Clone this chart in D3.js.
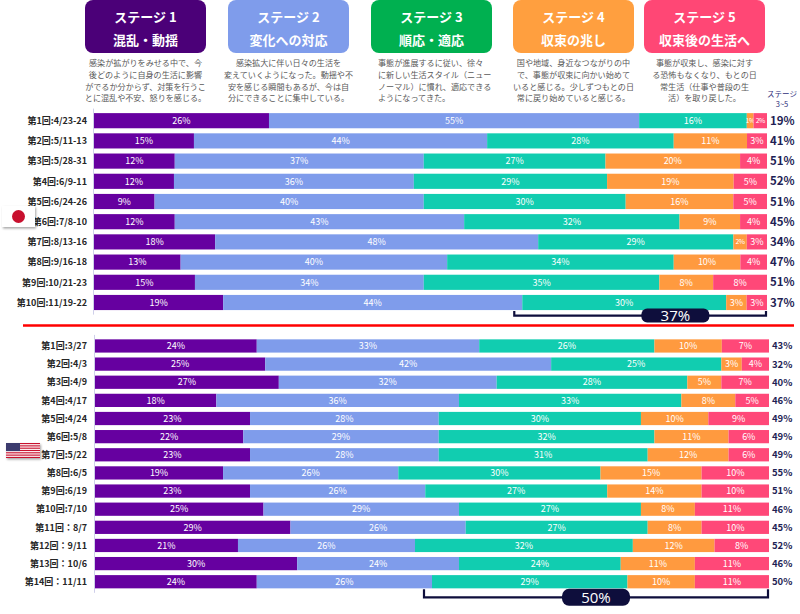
<!DOCTYPE html>
<html>
<head>
<meta charset="utf-8">
<script src="https://cdn.jsdelivr.net/npm/d3@7"></script>
<style>
  body { margin: 0; background: #fff; }
  svg { display: block; font-family: "Noto Sans CJK JP", "Noto Sans", sans-serif; }
</style>
</head>
<body>
<div id="chart"></div>
<script>
// stage headers
const stageTitles = ["ステージ 1", "ステージ 2", "ステージ 3", "ステージ 4", "ステージ 5"];
const stageNames = ["混乱・動揺", "変化への対応", "順応・適応", "収束の兆し", "収束後の生活へ"];
const stageNotes = [
  ["感染が拡がりをみせる中で、今", "後どのように自身の生活に影響", "がでるか分からず、対策を行うこ", "とに混乱や不安、怒りを感じる。"],
  ["感染拡大に伴い日々の生活を", "変えていくようになった。動揺や不", "安を感じる瞬間もあるが、今は自", "分にできることに集中している。"],
  ["事態が進展するに従い、徐々", "に新しい生活スタイル（ニュー", "ノーマル）に慣れ、適応できる", "ようになってきた。"],
  ["国や地域、身近なつながりの中", "で、事態が収束に向かい始めて", "いると感じる。少しずつもとの日", "常に戻り始めていると感じる。"],
  ["事態が収束し、感染に対す", "る恐怖もなくなり、もとの日", "常生活（仕事や普段の生", "活）を取り戻した。"]
];
const noteAlign = ["middle", "middle", "start", "middle", "middle"];

// Japan
const jpRounds = ["第1回:4/23-24", "第2回:5/11-13", "第3回:5/28-31", "第4回:6/9-11", "第5回:6/24-26",
  "第6回:7/8-10", "第7回:8/13-16", "第8回:9/16-18", "第9回:10/21-23", "第10回:11/19-22"];
const jpStage1 = [26, 15, 12, 12, 9, 12, 18, 13, 15, 19];
const jpStage2 = [55, 44, 37, 36, 40, 43, 48, 40, 34, 44];
const jpStage3 = [16, 28, 27, 29, 30, 32, 29, 34, 35, 30];
const jpStage4 = [1, 11, 20, 19, 16, 9, 2, 10, 8, 3];
const jpStage5 = [2, 3, 4, 5, 5, 4, 3, 4, 8, 3];
const jpTotals = [19, 41, 51, 52, 51, 45, 34, 47, 51, 37];
const jpLatest = 37;

// USA
const usRounds = ["第1回:3/27", "第2回:4/3", "第3回:4/9", "第4回:4/17", "第5回:4/24", "第6回:5/8", "第7回:5/22",
  "第8回:6/5", "第9回:6/19", "第10回:7/10", "第11回：8/7", "第12回：9/11", "第13回：10/6", "第14回：11/11"];
const usStage1 = [24, 25, 27, 18, 23, 22, 23, 19, 23, 25, 29, 21, 30, 24];
const usStage2 = [33, 42, 32, 36, 28, 29, 28, 26, 26, 29, 26, 26, 24, 26];
const usStage3 = [26, 25, 28, 33, 30, 32, 31, 30, 27, 27, 27, 32, 24, 29];
const usStage4 = [10, 3, 5, 8, 10, 11, 12, 15, 14, 8, 8, 12, 11, 10];
const usStage5 = [7, 4, 7, 5, 9, 6, 6, 10, 10, 11, 10, 8, 11, 11];
const usTotals = [43, 32, 40, 46, 49, 49, 49, 55, 51, 46, 45, 52, 46, 50];
const usLatest = 50;

const barColors = ["#6600A0", "#7F9CEB", "#11CDB0", "#FF9A3F", "#FF4878"];
const boxColors = ["#4B0078", "#7F9CEB", "#00B050", "#FF9F3F", "#FF4775"];
const navy = "#0E0E3C";

const width = 800, height = 614;

const svg = d3.select("#chart").append("svg")
  .attr("width", width)
  .attr("height", height)
  .attr("viewBox", [0, 0, width, height]);

const defs = svg.append("defs");
const shadow = defs.append("filter").attr("id", "shadow")
  .attr("x", "-30%").attr("y", "-30%").attr("width", "160%").attr("height", "170%");
shadow.append("feDropShadow").attr("dx", 1).attr("dy", 1.5).attr("stdDeviation", 1)
  .attr("flood-color", "#000").attr("flood-opacity", 0.35);

// header boxes
const boxX = [85, 228, 371, 513, 644];
const boxW = 121;
const header = svg.append("g")
  .selectAll("g")
  .data(stageTitles)
  .join("g")
  .attr("transform", (d, i) => `translate(${boxX[i]},0)`);

header.append("rect")
  .attr("y", 0)
  .attr("width", boxW)
  .attr("height", 53)
  .attr("rx", 8)
  .attr("fill", (d, i) => boxColors[i]);

header.append("text")
  .attr("x", boxW / 2)
  .attr("y", 22)
  .attr("text-anchor", "middle")
  .attr("fill", "#fff")
  .attr("font-size", 13)
  .attr("font-weight", "bold")
  .text(d => d);

header.append("text")
  .attr("x", boxW / 2)
  .attr("y", 45)
  .attr("text-anchor", "middle")
  .attr("fill", "#fff")
  .attr("font-size", 13)
  .attr("font-weight", "bold")
  .text((d, i) => stageNames[i]);

header.each(function (d, i) {
  d3.select(this).append("g")
    .attr("text-anchor", noteAlign[i])
    .selectAll("text")
    .data(stageNotes[i])
    .join("text")
    .attr("x", noteAlign[i] === "start" ? 7 : boxW / 2)
    .attr("y", (t, j) => 66 + j * 11.8)
    .attr("fill", "#595959")
    .attr("font-size", 8.1)
    .text(t => t);
});

svg.append("g")
  .attr("fill", "#2E2E7A")
  .attr("font-size", 7.5)
  .attr("text-anchor", "middle")
  .selectAll("text")
  .data(["ステージ", "3~5"])
  .join("text")
  .attr("x", 782)
  .attr("y", (d, i) => 97 + i * 10)
  .text(d => d);

function panel(rounds, series, totals, latest, opt) {
  const rows = rounds.map((r, i) => series.map(s => s[i]));
  const stacked = d3.stack()
    .keys(d3.range(series.length))
    .offset(d3.stackOffsetExpand)(rows);

  const x = d3.scaleLinear().domain([0, 1]).range(opt.xRange);
  const y = d3.scaleBand()
    .domain(rounds)
    .range(opt.yRange)
    .paddingInner(opt.pad)
    .paddingOuter(opt.pad / 2);

  const g = svg.append("g");

  // axis line
  g.append("line")
    .attr("x1", opt.xRange[0] - 0.5).attr("x2", opt.xRange[0] - 0.5)
    .attr("y1", opt.yRange[0] - 2).attr("y2", opt.yRange[1] + 2)
    .attr("stroke", "#CFCFEA");

  const layer = g.append("g")
    .selectAll("g")
    .data(stacked)
    .join("g")
    .attr("fill", d => barColors[d.key]);

  layer.selectAll("rect")
    .data(d => d)
    .join("rect")
    .attr("x", d => x(d[0]))
    .attr("y", (d, i) => y(rounds[i]))
    .attr("width", d => x(d[1]) - x(d[0]))
    .attr("height", y.bandwidth());

  layer.append("g")
    .attr("fill", "#fff")
    .attr("font-size", 9)
    .attr("text-anchor", "middle")
    .selectAll("text")
    .data(d => d.map((v, i) => ({ v, i, value: series[d.key][i] })))
    .join("text")
    .attr("x", d => (x(d.v[0]) + x(d.v[1])) / 2)
    .attr("y", d => y(rounds[d.i]) + y.bandwidth() / 2)
    .attr("dy", "0.36em")
    .attr("font-size", d => x(d.v[1]) - x(d.v[0]) < 15 ? 6.8 : 9)
    .attr("letter-spacing", d => x(d.v[1]) - x(d.v[0]) < 15 ? -0.4 : null)
    .text(d => d.value + "%");

  // row labels
  g.append("g")
    .attr("font-size", 9)
    .attr("font-weight", "bold")
    .attr("fill", "#262626")
    .attr("text-anchor", "end")
    .selectAll("text")
    .data(rounds)
    .join("text")
    .attr("x", 87)
    .attr("y", d => y(d) + y.bandwidth() / 2)
    .attr("dy", "0.36em")
    .text(d => d);

  // stage 3-5 totals
  g.append("g")
    .attr("font-size", opt.totalSize)
    .attr("font-weight", "bold")
    .attr("fill", "#1F1F55")
    .selectAll("text")
    .data(totals)
    .join("text")
    .attr("x", opt.xRange[1] + 3)
    .attr("y", (d, i) => y(rounds[i]) + y.bandwidth() / 2)
    .attr("dy", "0.36em")
    .text(d => d + "%");

  // bracket under the latest round
  const last = stacked[2][rounds.length - 1];
  const bx0 = x(last[0]) - 8, bx1 = opt.xRange[1] - 1;
  const by0 = y(rounds[rounds.length - 1]) + y.bandwidth() + 1;
  const by1 = by0 + opt.bracketDepth;
  g.append("path")
    .attr("d", `M${bx0},${by0}V${by1}H${bx1}V${by0}`)
    .attr("fill", "none")
    .attr("stroke", navy)
    .attr("stroke-width", 2.2);

  const pw = 68, ph = opt.pillH;
  const pc = bx0 + (bx1 - bx0) * opt.pillAt;
  g.append("rect")
    .attr("x", pc - pw / 2)
    .attr("y", by1 - ph / 2)
    .attr("width", pw)
    .attr("height", ph)
    .attr("rx", ph / 2.4)
    .attr("fill", navy);
  g.append("text")
    .attr("x", pc)
    .attr("y", by1)
    .attr("dy", "0.36em")
    .attr("text-anchor", "middle")
    .attr("fill", "#fff")
    .attr("font-size", 15)
    .attr("font-family", "'Open Sans', sans-serif")
    .text(latest + "%");

  return y;
}

panel(jpRounds, [jpStage1, jpStage2, jpStage3, jpStage4, jpStage5], jpTotals, jpLatest, {
  xRange: [94, 767], yRange: [110.6, 312.6], pad: 0.25, totalSize: 11.5,
  bracketDepth: 4.5, pillH: 14, pillAt: 0.64
});

panel(usRounds, [usStage1, usStage2, usStage3, usStage4, usStage5], usTotals, usLatest, {
  xRange: [95, 769], yRange: [336.9, 590.8], pad: 0.27, totalSize: 9.5,
  bracketDepth: 8, pillH: 17, pillAt: 0.5
});

// divider
svg.append("line")
  .attr("x1", 23).attr("x2", 794)
  .attr("y1", 325.5).attr("y2", 325.5)
  .attr("stroke", "#FF0000")
  .attr("stroke-width", 2.6);

// Japan flag
const jp = svg.append("g").attr("transform", "translate(2,206)");
jp.append("rect").attr("width", 33).attr("height", 21).attr("fill", "#fff").attr("filter", "url(#shadow)");
jp.append("circle").attr("cx", 16.5).attr("cy", 10.5).attr("r", 6.5).attr("fill", "#C8102E");

// US flag
const us = svg.append("g").attr("transform", "translate(6,443)");
us.append("rect").attr("width", 34).attr("height", 15).attr("fill", "#fff").attr("filter", "url(#shadow)");
us.append("g")
  .selectAll("rect")
  .data(d3.range(0, 13, 2))
  .join("rect")
  .attr("y", d => d * 15 / 13)
  .attr("width", 34)
  .attr("height", 15 / 13)
  .attr("fill", "#C8102E");
us.append("rect").attr("width", 14).attr("height", 15 * 7 / 13).attr("fill", "#3C3B6E");
</script>
</body>
</html>
